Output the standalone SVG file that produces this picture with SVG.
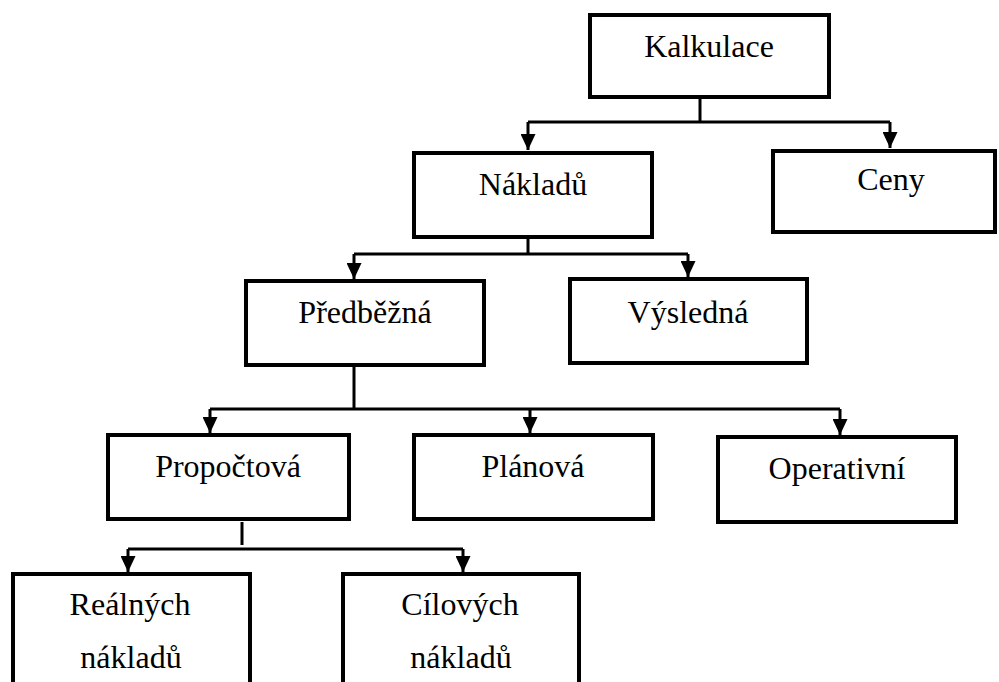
<svg xmlns="http://www.w3.org/2000/svg" width="999" height="682" viewBox="0 0 999 682">
<style>
.box{fill:#fff;stroke:#000;stroke-width:4}
.ln{fill:none;stroke:#000;stroke-width:3}
text{font-family:"Liberation Serif","Times New Roman",serif;font-size:32px;fill:#000;text-anchor:middle}
</style>
<defs>
<marker id="ah" markerWidth="16" markerHeight="15" refX="16" refY="7.5" orient="auto" markerUnits="userSpaceOnUse">
<path d="M0,0 L16,7.5 L0,15 Z" fill="#000"/>
</marker>
</defs>
<rect width="999" height="682" fill="#fff"/>
<g id="connectors">
<path class="ln" d="M700,98 V122"/>
<path class="ln" d="M528,122 H890"/>
<path class="ln" d="M528,122 V150" marker-end="url(#ah)"/>
<path class="ln" d="M890,122 V148" marker-end="url(#ah)"/>
<path class="ln" d="M528,238 V254"/>
<path class="ln" d="M354,254 H688"/>
<path class="ln" d="M354,254 V279" marker-end="url(#ah)"/>
<path class="ln" d="M688,254 V277" marker-end="url(#ah)"/>
<path class="ln" d="M354,366 V409"/>
<path class="ln" d="M210,409 H840"/>
<path class="ln" d="M210,409 V433" marker-end="url(#ah)"/>
<path class="ln" d="M530,409 V433" marker-end="url(#ah)"/>
<path class="ln" d="M840,409 V435" marker-end="url(#ah)"/>
<path class="ln" d="M242,522 V545"/>
<path class="ln" d="M128,549 H463"/>
<path class="ln" d="M128,549 V572" marker-end="url(#ah)"/>
<path class="ln" d="M463,549 V572" marker-end="url(#ah)"/>
</g>
<g id="kalkulace"><rect class="box" x="590" y="15" width="239" height="82"/><text x="709" y="57">Kalkulace</text></g>
<g id="naklady"><rect class="box" x="414" y="153" width="238" height="84"/><text x="533" y="195">Nákladů</text></g>
<g id="ceny"><rect class="box" x="773" y="151" width="222" height="81"/><text x="891" y="190">Ceny</text></g>
<g id="predbezna"><rect class="box" x="246" y="281" width="238" height="84"/><text x="365" y="323">Předběžná</text></g>
<g id="vysledna"><rect class="box" x="570" y="279" width="237" height="84"/><text x="688" y="323">Výsledná</text></g>
<g id="propoctova"><rect class="box" x="108" y="435" width="241" height="84"/><text x="228" y="477">Propočtová</text></g>
<g id="planova"><rect class="box" x="414" y="435" width="239" height="84"/><text x="533" y="477">Plánová</text></g>
<g id="operativni"><rect class="box" x="718" y="437" width="238" height="85"/><text x="837" y="479">Operativní</text></g>
<g id="realnych"><rect class="box" x="13" y="574" width="237" height="120"/><text x="130" y="615">Reálných</text><text x="131" y="668">nákladů</text></g>
<g id="cilovych"><rect class="box" x="343" y="574" width="236" height="120"/><text x="460" y="615">Cílových</text><text x="461" y="668">nákladů</text></g>
</svg>
